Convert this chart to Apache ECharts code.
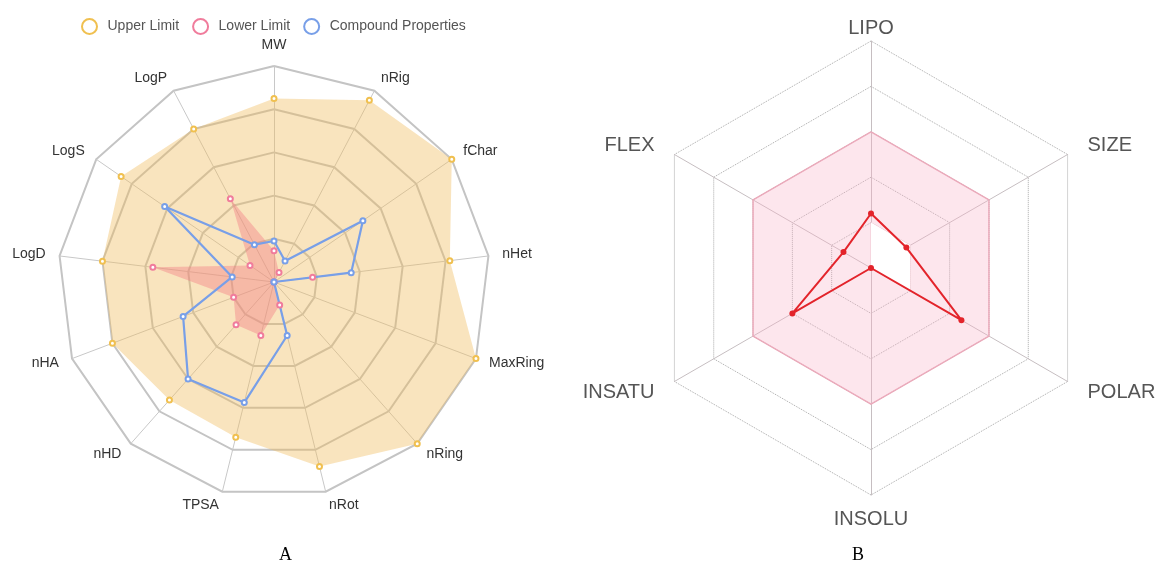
<!DOCTYPE html>
<html>
<head>
<meta charset="utf-8">
<script src="https://cdn.jsdelivr.net/npm/echarts@6/dist/echarts.min.js"></script>
<style>
html, body { margin: 0; padding: 0; background: #fff; }
#chart { width: 1158px; height: 567px; }
</style>
</head>
<body>
<div id="chart"></div>
<script>
// panel A, properties listed clockwise from the top
const propsA = ['MW', 'nRig', 'fChar', 'nHet', 'MaxRing', 'nRing', 'nRot', 'TPSA', 'nHD', 'nHA', 'LogD', 'LogS', 'LogP'];
const upperA = [0.85, 0.95, 1.0, 0.82, 1.0, 1.0, 0.88, 0.74, 0.73, 0.80, 0.80, 0.86, 0.80];
const lowerA = [0.145, 0.05, 0, 0.18, 0, 0, 0.11, 0.255, 0.265, 0.20, 0.565, 0.135, 0.435];
const compoundA = [0.19, 0.11, 0.50, 0.36, 0, 0, 0.255, 0.575, 0.60, 0.45, 0.195, 0.615, 0.195];

// panel B
const propsB = ['LIPO', 'SIZE', 'POLAR', 'INSOLU', 'INSATU', 'FLEX'];
const upperB = [0.6, 0.6, 0.6, 0.6, 0.6, 0.6];
const lowerB = [0.2, 0.2, 0.2, 0, 0, 0];
const compoundB = [0.24, 0.18, 0.46, 0, 0.40, 0.14];

const legendNames = ['Upper Limit', 'Lower Limit', 'Compound Properties'];

// echarts goes round the radar counter-clockwise, the figure goes clockwise
function clockwise(arr) {
    return [arr[0]].concat(arr.slice(1).reverse());
}

// panel B names sit a bit differently depending on which side they are on
function nameStyleB(name) {
    if (name === 'LIPO') return '{top|' + name + '}';
    if (name === 'INSOLU') return '{bottom|' + name + '}';
    if (name === 'SIZE' || name === 'FLEX') return '{up|' + name + '}';
    return '{down|' + name + '}';
}

const chart = echarts.init(document.getElementById('chart'));

const fontB = { color: '#555', fontSize: 20, fontFamily: 'Liberation Sans' };

chart.setOption({
    animation: false,
    legend: {
        data: legendNames,
        left: 76,
        top: 13,
        icon: 'emptyCircle',
        itemWidth: 26,
        itemHeight: 15,
        itemGap: 13,
        textStyle: { color: '#555', fontSize: 14 }
    },
    radar: [{
        center: [274, 282],
        radius: 216,
        shape: 'polygon',
        splitNumber: 5,
        nameGap: 14,
        indicator: clockwise(propsA).map(n => ({ name: n, min: 0, max: 1 })),
        axisName: { color: '#333', fontSize: 14 },
        axisLine: { lineStyle: { color: '#c8c8c8', width: 1 } },
        splitLine: { lineStyle: { color: '#c4c4c4', width: 2 } },
        splitArea: { show: false }
    }, {
        center: [871, 268],
        radius: 227,
        shape: 'polygon',
        splitNumber: 5,
        nameGap: 8,
        indicator: clockwise(propsB).map(n => ({ name: n, min: 0, max: 1 })),
        axisName: {
            padding: [0, 13],
            formatter: nameStyleB,
            rich: {
                top: Object.assign({ lineHeight: 10 }, fontB),
                bottom: Object.assign({ padding: [6, 0, 0, 0] }, fontB),
                up: Object.assign({ padding: [0, 0, 11, 0] }, fontB),
                down: Object.assign({ padding: [13, 0, 0, 0] }, fontB)
            }
        },
        axisLine: { lineStyle: { color: '#c6bec1', width: 1 } },
        splitLine: { lineStyle: { color: '#a8a8a8', width: 1, type: 'dotted' } },
        splitArea: { show: false }
    }],
    series: [{
        type: 'radar',
        radarIndex: 0,
        name: 'Upper Limit',
        symbol: 'emptyCircle',
        symbolSize: 5,
        itemStyle: { color: '#f0c050' },
        lineStyle: { width: 0, opacity: 0 },
        areaStyle: { color: 'rgba(240,188,93,0.4)', opacity: 1 },
        data: [{ name: 'Upper Limit', value: clockwise(upperA) }]
    }, {
        type: 'radar',
        radarIndex: 0,
        name: 'Lower Limit',
        symbol: 'emptyCircle',
        symbolSize: 5,
        itemStyle: { color: '#f07c9c' },
        lineStyle: { width: 0, opacity: 0 },
        areaStyle: { color: 'rgba(242,120,130,0.4)', opacity: 1 },
        data: [{ name: 'Lower Limit', value: clockwise(lowerA) }]
    }, {
        type: 'radar',
        radarIndex: 0,
        name: 'Compound Properties',
        symbol: 'emptyCircle',
        symbolSize: 5,
        itemStyle: { color: '#789fe8' },
        lineStyle: { width: 2.2, color: '#789fe8' },
        data: [{ name: 'Compound Properties', value: clockwise(compoundA) }]
    }, {
        type: 'radar',
        radarIndex: 1,
        name: 'B upper',
        symbol: 'none',
        lineStyle: { width: 1.5, color: '#e9a9b9' },
        areaStyle: { color: 'rgba(248,180,200,0.33)', opacity: 1 },
        data: [{ name: 'B upper', value: clockwise(upperB) }]
    }, {
        type: 'radar',
        radarIndex: 1,
        name: 'B lower',
        symbol: 'none',
        lineStyle: { width: 1, color: '#efc6d0' },
        areaStyle: { color: '#ffffff', opacity: 1 },
        data: [{ name: 'B lower', value: clockwise(lowerB) }]
    }, {
        type: 'radar',
        radarIndex: 1,
        name: 'B compound',
        symbol: 'circle',
        symbolSize: 6,
        itemStyle: { color: '#e3242b' },
        lineStyle: { width: 2, color: '#e3242b' },
        data: [{ name: 'B compound', value: clockwise(compoundB) }]
    }],
    graphic: [{
        type: 'text',
        left: 279,
        top: 546,
        style: { text: 'A', font: '18px "Liberation Serif"', fill: '#000' }
    }, {
        type: 'text',
        left: 852,
        top: 546,
        style: { text: 'B', font: '18px "Liberation Serif"', fill: '#000' }
    }]
});
</script>
</body>
</html>
